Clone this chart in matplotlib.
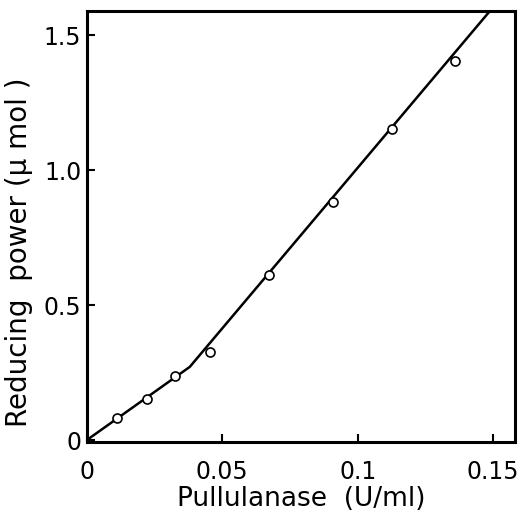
import matplotlib
matplotlib.use("Agg")
import matplotlib.pyplot as plt

# measured points
enzyme = [0.0110, 0.0221, 0.0326, 0.0456, 0.0673, 0.0907, 0.1127, 0.1360]
reducing = [0.080, 0.153, 0.236, 0.326, 0.611, 0.883, 1.151, 1.404]

# fitted line (two segments)
fit_x = [0.0, 0.038, 0.165]
fit_y = [0.0, 0.271, 1.782]

xticks = [0, 0.05, 0.1, 0.15]
xticklabels = ["0", "0.05", "0.1", "0.15"]
yticks = [0, 0.5, 1.0, 1.5]
yticklabels = ["0", "0.5", "1.0", "1.5"]

plt.rcParams['font.family'] = ['DejaVu Sans']

fig = plt.figure(figsize=(5.2, 5.16), dpi=100)
ax = fig.add_axes([0.167, 0.143, 0.823, 0.836])

ax.plot(fit_x, fit_y, color="black", lw=1.8, zorder=2)
ax.plot(enzyme, reducing, "o", mfc="white", mec="black", mew=1.2, ms=6.5, zorder=3)

ax.set_xlim(0, 0.158)
ax.set_ylim(-0.008, 1.59)
ax.set_xticks(xticks)
ax.set_xticklabels(xticklabels)
ax.set_yticks(yticks)
ax.set_yticklabels(yticklabels)
ax.tick_params(direction="in", length=6, width=1.5, labelsize=17)
ax.tick_params(axis="x", pad=13)
ax.tick_params(axis="y", pad=4)
for s in ax.spines.values():
    s.set_linewidth(2.2)

ax.set_xlabel("Pullulanase  (U/ml)", fontsize=19, labelpad=1)
ax.set_ylabel("Reducing  power (\u03bc mol )", fontsize=20)
ax.yaxis.set_label_coords(-0.125, 0.44)

fig.savefig("out.png", dpi=100)
